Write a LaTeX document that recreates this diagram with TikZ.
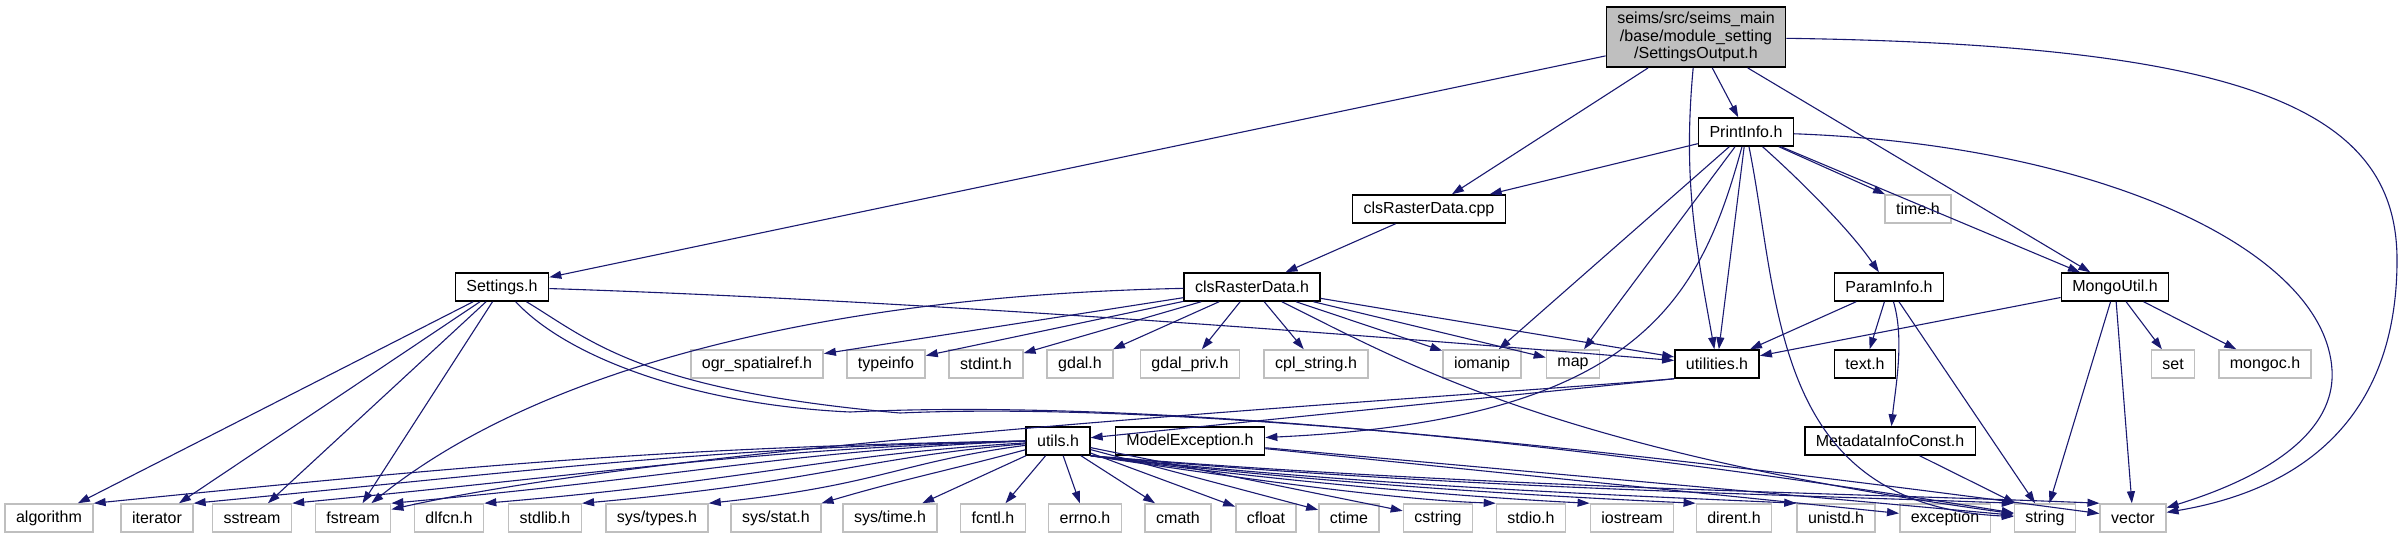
\documentclass[tikz,border=0pt]{standalone}
\usepackage{fontspec}
\setmainfont{Liberation Sans}
\usetikzlibrary{arrows.meta}
\definecolor{doxyedge}{HTML}{191970}
\definecolor{grey75}{HTML}{BFBFBF}

\begin{document}
\begin{tikzpicture}[
  x=1pt, y=1pt,
  font=\fontsize{16}{17.7}\selectfont,
  hfile/.style={rectangle, draw=black, line width=1.5pt, fill=white,
    inner xsep=11pt, inner ysep=0pt, minimum height=28pt},
  sysfile/.style={hfile, draw=grey75},
  rootfile/.style={hfile, fill=grey75, align=center, inner ysep=5pt},
  incl/.style={-{Triangle[length=12pt,width=8pt]}, draw=doxyedge, line width=1.1pt}
]
\useasboundingbox (0,0) rectangle (2405,-539);

\node[rootfile] (settingsout) at (1696,-37) {seims/src/seims\_main\\/base/module\_setting\\/SettingsOutput.h};
\node[hfile] (printinfo) at (1746,-132) {PrintInfo.h};
\node[hfile] (rastercpp) at (1429,-209) {clsRasterData.cpp};
\node[sysfile] (timeh) at (1918,-209) {time.h};
\node[hfile] (settings) at (502,-287) {Settings.h};
\node[hfile] (rasterh) at (1252,-287) {clsRasterData.h};
\node[hfile] (paraminfo) at (1889,-287) {ParamInfo.h};
\node[hfile] (mongoutil) at (2115,-287) {MongoUtil.h};

\node[sysfile] (ogr) at (757,-364) {ogr\_spatialref.h};
\node[sysfile] (typeinfo) at (886,-364) {typeinfo};
\node[sysfile] (stdint) at (986,-364) {stdint.h};
\node[sysfile] (gdal) at (1080,-364) {gdal.h};
\node[sysfile] (gdalpriv) at (1190,-364) {gdal\_priv.h};
\node[sysfile] (cplstring) at (1316,-364) {cpl\_string.h};
\node[sysfile] (iomanip) at (1482,-364) {iomanip};
\node[sysfile] (map) at (1573,-364) {map};
\node[hfile] (utilities) at (1717,-364) {utilities.h};
\node[hfile] (texth) at (1865,-364) {text.h};
\node[sysfile] (set) at (2173,-364) {set};
\node[sysfile] (mongoc) at (2265,-364) {mongoc.h};

\node[hfile] (utils) at (1058,-441) {utils.h};
\node[hfile] (modelexc) at (1190,-441) {ModelException.h};
\node[hfile] (metadata) at (1890,-441) {MetadataInfoConst.h};

\node[sysfile] (algorithm) at (49,-518) {algorithm};
\node[sysfile] (iterator) at (157,-518) {iterator};
\node[sysfile] (sstream) at (252,-518) {sstream};
\node[sysfile] (fstream) at (353,-518) {fstream};
\node[sysfile] (dlfcn) at (449,-518) {dlfcn.h};
\node[sysfile] (stdlib) at (545,-518) {stdlib.h};
\node[sysfile] (systypes) at (657,-518) {sys/types.h};
\node[sysfile] (sysstat) at (776,-518) {sys/stat.h};
\node[sysfile] (systime) at (890,-518) {sys/time.h};
\node[sysfile] (fcntl) at (993,-518) {fcntl.h};
\node[sysfile] (errno) at (1085,-518) {errno.h};
\node[sysfile] (cmath) at (1178,-518) {cmath};
\node[sysfile] (cfloat) at (1266,-518) {cfloat};
\node[sysfile] (ctime) at (1349,-518) {ctime};
\node[sysfile] (cstring) at (1438,-518) {cstring};
\node[sysfile] (stdio) at (1531,-518) {stdio.h};
\node[sysfile] (iostream) at (1632,-518) {iostream};
\node[sysfile] (dirent) at (1734,-518) {dirent.h};
\node[sysfile] (unistd) at (1836,-518) {unistd.h};
\node[sysfile] (exception) at (1945,-518) {exception};
\node[sysfile] (string) at (2045,-518) {string};
\node[sysfile] (vector) at (2133,-518) {vector};

% SettingsOutput.h
\draw[incl] (settingsout) -- (settings);
\draw[incl] (settingsout) -- (rastercpp);
\draw[incl] (settingsout) .. controls (1683,-178) and (1695,-242) .. (utilities);
\draw[incl] (settingsout) -- (printinfo);
\draw[incl] (settingsout) -- (mongoutil);
\draw[incl] (settingsout) .. controls (2250,-45) and (2397,-110) .. (2397,-260)
  .. controls (2397,-420) and (2300,-490) .. (vector);

% PrintInfo.h
\draw[incl] (printinfo) -- (rastercpp);
\draw[incl] (printinfo) -- (iomanip);
\draw[incl] (printinfo) -- (map);
\draw[incl] (printinfo) -- (utilities);
\draw[incl] (printinfo) .. controls (1700,-300) and (1640,-420) .. (modelexc);
\draw[incl] (printinfo) .. controls (1780,-300) and (1770,-505) .. (string);
\draw[incl] (printinfo) .. controls (1800,-180) and (1850,-230) .. (paraminfo);
\draw[incl] (printinfo) -- (timeh);
\draw[incl] (printinfo) -- (mongoutil);
\draw[incl] (printinfo) .. controls (2100,-145) and (2325,-250) .. (2332,-370)
  .. controls (2336,-440) and (2250,-482) .. (vector);

\draw[incl] (rastercpp) -- (rasterh);

% clsRasterData.h
\draw[incl] (rasterh) -- (ogr);
\draw[incl] (rasterh) -- (typeinfo);
\draw[incl] (rasterh) -- (stdint);
\draw[incl] (rasterh) -- (gdal);
\draw[incl] (rasterh) -- (gdalpriv);
\draw[incl] (rasterh) -- (cplstring);
\draw[incl] (rasterh) -- (iomanip);
\draw[incl] (rasterh) -- (map);
\draw[incl] (rasterh) -- (utilities);
\draw[incl] (rasterh) .. controls (850,-295) and (550,-360) .. (fstream);
\draw[incl] (rasterh) .. controls (1400,-360) and (1550,-450) .. (string);

% Settings.h
\draw[incl] (settings) -- (algorithm);
\draw[incl] (settings) -- (iterator);
\draw[incl] (settings) -- (sstream);
\draw[incl] (settings) -- (fstream);
\draw[incl] (settings) .. controls (900,-300) and (1300,-330) .. (utilities);
\draw[incl] (settings) .. controls (570,-360) and (700,-405) .. (850,-412)
  .. controls (1100,-400) and (1500,-430) .. (string);
\draw[incl] (settings) .. controls (590,-340) and (640,-390) .. (900,-413)
  .. controls (1150,-402) and (1550,-440) .. (vector);

% utilities.h
\draw[incl] (utilities.south west) -- (utils);
\draw[incl] (utilities.south west) .. controls (1450,-398) and (700,-440) .. (fstream);

% ParamInfo.h, MongoUtil.h
\draw[incl] (paraminfo) -- (utilities);
\draw[incl] (paraminfo) -- (texth);
\draw[incl] (paraminfo) .. controls (1905,-340) and (1895,-390) .. (metadata);
\draw[incl] (paraminfo) -- (string);
\draw[incl] (metadata) -- (string);
\draw[incl] (mongoutil) -- (utilities);
\draw[incl] (mongoutil) -- (set);
\draw[incl] (mongoutil) -- (mongoc);
\draw[incl] (mongoutil) -- (string);
\draw[incl] (mongoutil) -- (vector);

\draw[incl] (modelexc) -- (exception);
\draw[incl] (modelexc) -- (string);

% utils.h
\draw[incl] (utils.west) .. controls (660,-447) and (457,-467) .. (algorithm.north east);
\draw[incl] (utils.west) .. controls (700,-448) and (540,-470) .. (iterator.north east);
\draw[incl] (utils.west) .. controls (740,-450) and (620,-472) .. (sstream.north east);
\draw[incl] (utils.west) .. controls (780,-452) and (700,-475) .. (fstream.north east);
\draw[incl] (utils) .. controls (820,-455) and (760,-480) .. (dlfcn.north east);
\draw[incl] (utils) .. controls (860,-458) and (820,-482) .. (stdlib.north east);
\draw[incl] (utils) .. controls (900,-462) and (880,-485) .. (systypes.north east);
\draw[incl] (utils) .. controls (950,-470) and (900,-480) .. (sysstat.north east);
\draw[incl] (utils) -- (systime);
\draw[incl] (utils) -- (fcntl);
\draw[incl] (utils) -- (errno);
\draw[incl] (utils) -- (cmath);
\draw[incl] (utils) -- (cfloat);
\draw[incl] (utils) -- (ctime);
\draw[incl] (utils) -- (cstring);
\draw[incl] (utils.south east) .. controls (1250,-480) and (1400,-500) .. (stdio.north west);
\draw[incl] (utils.south east) .. controls (1280,-482) and (1480,-498) .. (iostream.north west);
\draw[incl] (utils.south east) .. controls (1320,-484) and (1560,-497) .. (dirent.north west);
\draw[incl] (utils.south east) .. controls (1360,-486) and (1640,-496) .. (unistd.north west);
\draw[incl] (utils.south east) .. controls (1440,-488) and (1800,-495) .. (string.north west);
\draw[incl] (utils.south east) .. controls (1480,-488) and (1880,-494) .. (vector.north west);
\end{tikzpicture}
\end{document}
